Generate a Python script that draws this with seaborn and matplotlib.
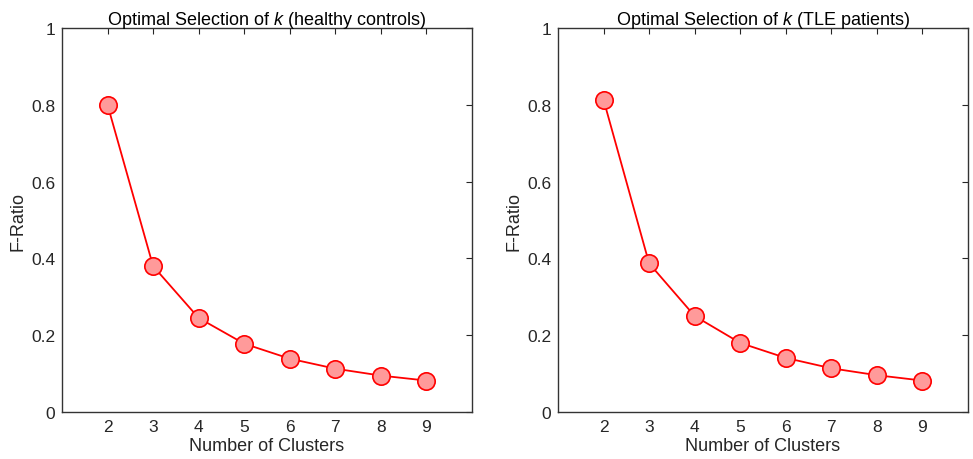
import matplotlib
matplotlib.use("Agg")
import matplotlib.pyplot as plt
import numpy as np
import pandas as pd
import seaborn as sns
from matplotlib.ticker import FormatStrFormatter

# F-ratio for each number of clusters
clusters = [2, 3, 4, 5, 6, 7, 8, 9]
f_ratio_controls = [0.800, 0.380, 0.245, 0.178, 0.139, 0.113, 0.095, 0.082]
f_ratio_tle = [0.813, 0.387, 0.250, 0.180, 0.141, 0.114, 0.096, 0.082]
titles = ["healthy controls", "TLE patients"]

sns.set_style("white")
plt.rcParams["font.family"] = ["Liberation Sans", "DejaVu Sans"]
plt.rcParams["mathtext.fontset"] = "custom"
plt.rcParams["mathtext.it"] = "Liberation Sans:italic"
plt.rcParams["mathtext.rm"] = "Liberation Sans"

text_col = "#262626"
fig = plt.figure(figsize=(9.73, 4.6), dpi=100)
ax1 = fig.add_axes([0.0637, 0.102, 0.4214, 0.835])
ax2 = fig.add_axes([0.5735, 0.102, 0.4214, 0.835])

for ax, vals, name in zip([ax1, ax2], [f_ratio_controls, f_ratio_tle], titles):
    df = pd.DataFrame({"k": clusters, "F": vals})
    sns.lineplot(x="k", y="F", data=df, ax=ax, color="red", lw=1.3,
                 marker="o", markersize=12.5, markerfacecolor="#ff9a9a",
                 markeredgecolor="red", markeredgewidth=1.2)
    ax.set_xlim(1, 10)
    ax.set_ylim(0, 1)
    ax.set_xticks(clusters)
    ax.set_yticks([0, 0.2, 0.4, 0.6, 0.8, 1])
    ax.yaxis.set_major_formatter(FormatStrFormatter("%g"))
    ax.tick_params(direction="in", top=True, right=True, length=4, width=0.8,
                   labelsize=12.5, colors=text_col, pad=5)
    for s in ax.spines.values():
        s.set_color("#333333")
        s.set_linewidth(1.0)
    ax.set_xlabel("Number of Clusters", fontsize=13, color=text_col, labelpad=2)
    ax.set_ylabel("F-Ratio", fontsize=13, color=text_col, labelpad=3)
    ax.set_title("Optimal Selection of $k$ (" + name + ")", fontsize=13,
                 color="black", pad=3)

fig.savefig("out.png", dpi=100)
